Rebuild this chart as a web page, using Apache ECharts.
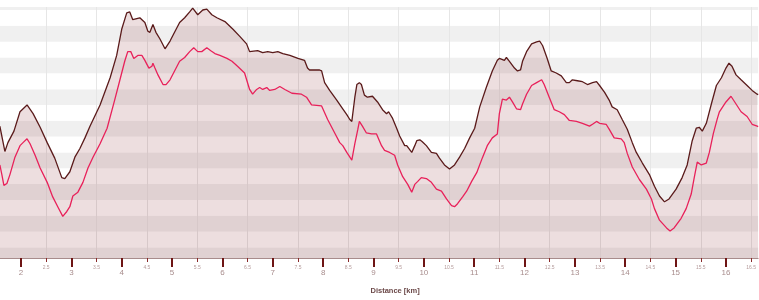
<!DOCTYPE html>
<html>
<head>
<meta charset="utf-8">
<script src="https://cdn.jsdelivr.net/npm/echarts@6/dist/echarts.min.js"></script>
<style>
html,body{margin:0;padding:0;background:#fff;}
#chart{width:759px;height:300px;}
</style>
</head>
<body>
<div id="chart"></div>
<script>
// Distance (km) / elevation (m) of the upper (dark) profile
const upperDist = [1.58,1.68,1.74,1.86,1.98,2.12,2.24,2.38,2.52,2.67,2.81,2.87,2.97,3.07,3.17,3.27,3.37,3.57,3.77,3.90,4.00,4.10,4.16,4.22,4.36,4.46,4.52,4.56,4.62,4.68,4.76,4.86,4.96,5.06,5.15,5.25,5.35,5.41,5.51,5.61,5.69,5.79,5.89,6.05,6.21,6.34,6.48,6.54,6.70,6.80,6.90,7.00,7.10,7.20,7.34,7.50,7.63,7.69,7.73,7.93,7.97,8.03,8.13,8.27,8.39,8.47,8.53,8.57,8.63,8.67,8.72,8.76,8.82,8.88,8.98,9.08,9.18,9.26,9.30,9.38,9.46,9.52,9.62,9.66,9.76,9.82,9.86,9.92,9.97,10.05,10.15,10.25,10.31,10.41,10.51,10.61,10.71,10.81,10.91,11.01,11.11,11.24,11.36,11.46,11.50,11.60,11.64,11.70,11.80,11.86,11.92,11.96,12.04,12.14,12.24,12.30,12.36,12.45,12.53,12.63,12.73,12.83,12.89,12.95,13.05,13.15,13.25,13.35,13.43,13.49,13.59,13.68,13.74,13.84,13.94,14.04,14.14,14.22,14.34,14.48,14.58,14.68,14.78,14.87,15.01,15.13,15.23,15.33,15.41,15.47,15.53,15.61,15.71,15.81,15.91,16.00,16.06,16.12,16.20,16.30,16.42,16.52,16.62,16.64];
const upperElev = [276.6,260.6,266.2,273.5,285.7,290.0,284.5,275.9,266.2,256.4,244.1,243.5,247.8,257.0,262.5,269.2,276.6,290.0,307.2,321.3,337.8,348.2,348.8,343.9,345.1,342.1,336.6,335.9,340.8,335.9,331.7,325.5,330.4,336.6,342.1,345.1,348.8,351.2,347.0,350.0,350.6,347.0,345.1,342.7,337.8,333.5,328.6,323.7,324.3,323.1,323.7,323.1,323.7,322.5,321.3,319.4,318.2,313.3,312.1,312.1,311.5,304.1,299.2,293.1,287.6,283.9,280.8,279.6,294.9,302.9,304.1,302.9,296.2,294.9,295.5,291.9,287.0,284.5,285.7,281.5,275.3,270.4,264.3,264.3,260.0,264.3,267.4,268.0,266.8,264.3,260.0,259.4,256.4,252.1,249.6,252.1,257.0,262.5,269.2,275.3,288.8,301.0,311.5,318.2,319.4,318.2,320.0,317.6,313.3,311.5,312.1,317.6,323.7,328.6,329.8,330.4,327.4,319.4,311.5,310.2,308.4,304.1,304.1,305.9,305.3,304.7,302.9,304.1,304.7,302.3,298.0,293.1,288.8,287.0,280.8,274.7,266.2,260.0,253.3,246.0,238.6,232.5,228.8,230.6,236.8,244.1,252.1,267.4,275.3,275.9,273.5,278.4,290.6,302.3,307.2,313.3,316.4,314.5,309.0,305.9,302.3,299.2,296.8,296.5];

// Distance (km) / elevation (m) of the lower (red) profile
const lowerDist = [1.58,1.62,1.66,1.72,1.78,1.88,1.98,2.04,2.12,2.18,2.28,2.38,2.52,2.63,2.73,2.83,2.91,2.97,3.03,3.13,3.23,3.33,3.43,3.57,3.71,3.86,3.96,4.06,4.12,4.18,4.24,4.32,4.40,4.46,4.54,4.60,4.62,4.66,4.72,4.82,4.88,4.96,5.06,5.15,5.25,5.35,5.43,5.51,5.59,5.69,5.77,5.85,5.95,6.09,6.19,6.30,6.44,6.54,6.60,6.68,6.74,6.80,6.88,6.94,7.04,7.14,7.24,7.38,7.57,7.67,7.77,7.97,8.09,8.23,8.33,8.39,8.47,8.57,8.63,8.69,8.72,8.78,8.86,8.96,9.06,9.16,9.22,9.32,9.42,9.48,9.58,9.68,9.76,9.82,9.88,9.95,10.05,10.15,10.25,10.35,10.45,10.55,10.61,10.67,10.77,10.85,10.95,11.05,11.16,11.26,11.36,11.46,11.50,11.54,11.56,11.64,11.70,11.76,11.84,11.92,11.96,12.04,12.14,12.24,12.34,12.39,12.49,12.59,12.69,12.79,12.89,13.03,13.15,13.29,13.35,13.43,13.49,13.62,13.68,13.78,13.92,13.98,14.04,14.14,14.28,14.42,14.52,14.58,14.68,14.82,14.89,14.97,15.11,15.21,15.31,15.37,15.43,15.51,15.61,15.67,15.75,15.83,15.87,16.00,16.10,16.20,16.30,16.42,16.52,16.62,16.64];
const lowerElev = [252.1,246.0,239.2,240.4,246.0,257.0,264.3,266.2,268.6,265.5,258.2,250.2,241.1,231.9,225.7,219.6,222.7,225.7,232.5,234.9,241.1,250.2,257.0,265.5,275.3,293.1,305.3,317.6,323.7,323.7,319.4,321.3,321.3,318.2,313.3,314.5,316.4,313.3,309.0,302.9,302.9,305.9,312.1,317.6,320.0,323.7,326.2,323.7,323.7,326.2,324.3,322.5,321.3,319.4,317.6,314.5,310.2,299.8,296.8,299.8,301.0,299.8,301.0,299.2,299.8,301.7,299.8,297.4,296.8,294.9,290.0,289.4,280.8,272.3,266.2,264.3,260.0,255.1,265.5,274.7,279.6,276.6,272.3,271.7,271.7,264.3,261.3,260.0,258.2,252.1,244.7,239.8,234.9,239.8,241.7,244.1,243.5,241.1,236.8,235.5,230.6,226.4,225.7,227.6,231.9,235.5,241.7,247.2,256.4,264.3,269.2,271.7,284.5,290.6,293.7,293.1,294.9,291.9,287.6,287.0,290.6,296.8,302.3,304.1,305.9,302.9,294.9,287.0,285.7,283.9,280.2,279.6,278.4,276.6,277.8,279.6,278.4,277.8,274.7,269.2,268.6,266.2,259.4,250.8,242.9,236.8,230.6,224.5,217.2,212.3,210.4,212.3,218.4,224.5,233.7,244.1,253.9,252.1,253.3,260.0,272.0,281.5,285.7,291.9,295.5,290.6,285.7,282.7,277.8,276.6,276.3];

// Axis ticks
const majorTicks = [2,3,4,5,6,7,8,9,10,11,12,13,14,15,16];
const minorTicks = [2.5,3.5,4.5,5.5,6.5,7.5,8.5,9.5,10.5,11.5,12.5,13.5,14.5,15.5,16.5];
const xTitle = 'Distance [km]';

const xMin = 1.583, xMax = 16.64;
const yMin = 193.3, yMax = 351.9;

const pair = (xs, ys) => xs.map((x, i) => [x, ys[i]]);

const chart = echarts.init(document.getElementById('chart'), null, {renderer: 'canvas'});
chart.setOption({
  animation: false,
  backgroundColor: '#ffffff',
  grid: {left: 0, right: 0, top: 7, bottom: 34, containLabel: false},
  xAxis: [
    {
      type: 'value', min: xMin, max: xMax, splitNumber: 15, position: 'bottom',
      name: xTitle, nameLocation: 'middle', nameGap: 29,
      nameTextStyle: {fontFamily: 'Liberation Sans', fontWeight: 'bold', fontSize: 7.5, color: '#6b4848', padding: [0, 0, 0, 32]},
      axisLine: {show: true, lineStyle: {color: '#a88c8c', width: 1}},
      axisTick: {show: true, customValues: majorTicks, length: 9, lineStyle: {color: '#6e1414', width: 2}},
      axisLabel: {show: true, customValues: majorTicks, margin: 11, fontFamily: 'Liberation Sans', fontSize: 8, color: '#a88d8d'},
      splitLine: {show: false}
    },
    {
      type: 'value', min: xMin, max: xMax, splitNumber: 30, position: 'bottom', offset: 0,
      axisLine: {show: false},
      axisTick: {show: true, customValues: minorTicks, length: 4, lineStyle: {color: '#8a2a2a', width: 1}},
      axisLabel: {show: true, customValues: minorTicks, margin: 7, fontFamily: 'Liberation Sans', fontSize: 5, color: '#b49a9a'},
      splitLine: {show: true, lineStyle: {color: '#e6e6e6', width: 1}}
    }
  ],
  yAxis: {
    type: 'value', min: yMin, max: yMax, splitNumber: 16,
    axisLine: {show: false}, axisTick: {show: false}, axisLabel: {show: false},
    splitLine: {show: false},
    splitArea: {show: true, areaStyle: {color: ['#f0f0f0', '#ffffff']}}
  },
  series: [
    {
      type: 'line', xAxisIndex: 0, data: pair(upperDist, upperElev),
      showSymbol: false, symbol: 'none',
      lineStyle: {color: '#5a1a1a', width: 1.3},
      areaStyle: {color: 'rgba(125,20,25,0.2)', origin: 'start'},
      z: 2
    },
    {
      type: 'line', xAxisIndex: 0, data: pair(lowerDist, lowerElev),
      showSymbol: false, symbol: 'none',
      lineStyle: {color: '#e8215a', width: 1.3},
      z: 3
    }
  ]
});
</script>
</body>
</html>
